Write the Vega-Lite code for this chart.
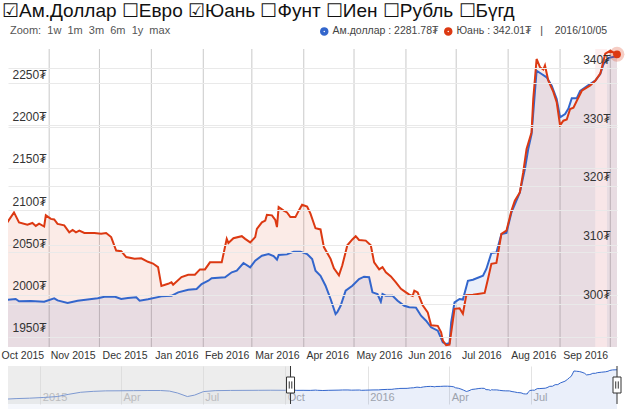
{
  "$schema": "https://vega.github.io/schema/vega-lite/v6.json",
  "background": "white",
  "padding": {"left": 1, "top": 1, "right": 10, "bottom": 0},
  "bounds": "flush",
  "spacing": 19,
  "config": {
    "font": "Liberation Sans, Arial, sans-serif",
    "view": {"stroke": null},
    "title": {"fontWeight": "normal"}
  },
  "title": {
    "text": "☑Ам.Доллар ☐Евро ☑Юань ☐Фунт ☐Иен ☐Рубль ☐Бүгд",
    "anchor": "start",
    "frame": "group",
    "fontSize": 19,
    "color": "#111111",
    "dx": -6,
    "offset": 4
  },
  "datasets": {
    "usd": [
      {"date": "2015-10-07", "value": 1993.8},
      {"date": "2015-10-12", "value": 1994.7},
      {"date": "2015-10-14", "value": 1992.0},
      {"date": "2015-10-21", "value": 1992.3},
      {"date": "2015-10-29", "value": 1991.5},
      {"date": "2015-11-04", "value": 1995.5},
      {"date": "2015-11-06", "value": 1993.0},
      {"date": "2015-11-12", "value": 1990.0},
      {"date": "2015-11-18", "value": 1992.7},
      {"date": "2015-11-30", "value": 1995.5},
      {"date": "2015-12-04", "value": 1997.4},
      {"date": "2015-12-10", "value": 1997.6},
      {"date": "2015-12-14", "value": 1994.7},
      {"date": "2015-12-18", "value": 1996.0},
      {"date": "2015-12-23", "value": 1996.7},
      {"date": "2015-12-25", "value": 1992.7},
      {"date": "2015-12-30", "value": 1994.5},
      {"date": "2016-01-07", "value": 1997.8},
      {"date": "2016-01-13", "value": 1998.5},
      {"date": "2016-01-17", "value": 2002.6},
      {"date": "2016-01-23", "value": 2005.7},
      {"date": "2016-01-28", "value": 2006.5},
      {"date": "2016-01-31", "value": 2012.4},
      {"date": "2016-02-04", "value": 2016.3},
      {"date": "2016-02-06", "value": 2019.2},
      {"date": "2016-02-14", "value": 2020.4},
      {"date": "2016-02-18", "value": 2026.3},
      {"date": "2016-02-21", "value": 2028.2},
      {"date": "2016-02-25", "value": 2037.3},
      {"date": "2016-02-29", "value": 2032.2},
      {"date": "2016-03-03", "value": 2040.0},
      {"date": "2016-03-07", "value": 2045.9},
      {"date": "2016-03-11", "value": 2047.9},
      {"date": "2016-03-14", "value": 2045.5},
      {"date": "2016-03-16", "value": 2041.2},
      {"date": "2016-03-17", "value": 2046.7},
      {"date": "2016-03-22", "value": 2047.5},
      {"date": "2016-03-26", "value": 2050.7},
      {"date": "2016-03-30", "value": 2050.7},
      {"date": "2016-04-03", "value": 2047.9},
      {"date": "2016-04-06", "value": 2042.0},
      {"date": "2016-04-08", "value": 2028.2},
      {"date": "2016-04-11", "value": 2022.2},
      {"date": "2016-04-14", "value": 2010.4},
      {"date": "2016-04-17", "value": 1994.7},
      {"date": "2016-04-20", "value": 1976.9},
      {"date": "2016-04-21", "value": 1979.0},
      {"date": "2016-04-23", "value": 1986.7},
      {"date": "2016-04-26", "value": 2004.5},
      {"date": "2016-04-30", "value": 2010.4},
      {"date": "2016-05-04", "value": 2018.3},
      {"date": "2016-05-07", "value": 2021.1},
      {"date": "2016-05-10", "value": 2020.5},
      {"date": "2016-05-12", "value": 2002.6},
      {"date": "2016-05-15", "value": 2000.5},
      {"date": "2016-05-17", "value": 1991.5},
      {"date": "2016-05-18", "value": 2000.6},
      {"date": "2016-05-20", "value": 1998.6},
      {"date": "2016-05-24", "value": 1998.5},
      {"date": "2016-05-27", "value": 1992.7},
      {"date": "2016-05-31", "value": 1986.7},
      {"date": "2016-06-03", "value": 1984.9},
      {"date": "2016-06-07", "value": 1984.5},
      {"date": "2016-06-10", "value": 1974.9},
      {"date": "2016-06-13", "value": 1969.0},
      {"date": "2016-06-16", "value": 1961.2},
      {"date": "2016-06-20", "value": 1957.2},
      {"date": "2016-06-23", "value": 1943.4},
      {"date": "2016-06-25", "value": 1941.4},
      {"date": "2016-06-27", "value": 1942.5},
      {"date": "2016-06-28", "value": 1967.1},
      {"date": "2016-06-30", "value": 1990.8},
      {"date": "2016-07-03", "value": 1994.7},
      {"date": "2016-07-05", "value": 1994.0},
      {"date": "2016-07-08", "value": 2016.3},
      {"date": "2016-07-11", "value": 2017.5},
      {"date": "2016-07-17", "value": 2022.2},
      {"date": "2016-07-19", "value": 2030.2},
      {"date": "2016-07-22", "value": 2049.1},
      {"date": "2016-07-25", "value": 2049.8},
      {"date": "2016-07-28", "value": 2071.6},
      {"date": "2016-07-31", "value": 2073.0},
      {"date": "2016-08-03", "value": 2097.3},
      {"date": "2016-08-08", "value": 2120.9},
      {"date": "2016-08-11", "value": 2148.5},
      {"date": "2016-08-13", "value": 2172.2},
      {"date": "2016-08-15", "value": 2189.9},
      {"date": "2016-08-18", "value": 2264.8},
      {"date": "2016-08-21", "value": 2260.9},
      {"date": "2016-08-24", "value": 2257.0},
      {"date": "2016-08-27", "value": 2247.0},
      {"date": "2016-08-30", "value": 2231.4},
      {"date": "2016-09-01", "value": 2209.7},
      {"date": "2016-09-04", "value": 2213.6},
      {"date": "2016-09-06", "value": 2220.0},
      {"date": "2016-09-08", "value": 2232.2},
      {"date": "2016-09-11", "value": 2232.2},
      {"date": "2016-09-13", "value": 2241.0},
      {"date": "2016-09-18", "value": 2247.9},
      {"date": "2016-09-22", "value": 2253.0},
      {"date": "2016-09-25", "value": 2260.9},
      {"date": "2016-09-27", "value": 2272.7},
      {"date": "2016-09-30", "value": 2280.0},
      {"date": "2016-10-05", "value": 2281.8}
    ],
    "cny": [
      {"date": "2015-10-07", "value": 313.8},
      {"date": "2015-10-11", "value": 315.5},
      {"date": "2015-10-14", "value": 313.8},
      {"date": "2015-10-19", "value": 313.4},
      {"date": "2015-10-22", "value": 313.7},
      {"date": "2015-10-24", "value": 313.2},
      {"date": "2015-10-26", "value": 313.6},
      {"date": "2015-10-29", "value": 313.1},
      {"date": "2015-10-30", "value": 315.0},
      {"date": "2015-11-02", "value": 314.4},
      {"date": "2015-11-04", "value": 314.3},
      {"date": "2015-11-06", "value": 313.55},
      {"date": "2015-11-10", "value": 313.3},
      {"date": "2015-11-13", "value": 312.1},
      {"date": "2015-11-15", "value": 312.5},
      {"date": "2015-11-17", "value": 312.1},
      {"date": "2015-11-19", "value": 312.4},
      {"date": "2015-11-22", "value": 312.0},
      {"date": "2015-11-28", "value": 312.0},
      {"date": "2015-12-02", "value": 311.85},
      {"date": "2015-12-05", "value": 312.0},
      {"date": "2015-12-08", "value": 311.3},
      {"date": "2015-12-11", "value": 309.0},
      {"date": "2015-12-14", "value": 308.9},
      {"date": "2015-12-17", "value": 307.9},
      {"date": "2015-12-22", "value": 307.6},
      {"date": "2015-12-26", "value": 307.7},
      {"date": "2015-12-30", "value": 307.1},
      {"date": "2016-01-02", "value": 306.8},
      {"date": "2016-01-05", "value": 306.2},
      {"date": "2016-01-07", "value": 303.0},
      {"date": "2016-01-11", "value": 303.35},
      {"date": "2016-01-13", "value": 303.6},
      {"date": "2016-01-14", "value": 303.2},
      {"date": "2016-01-19", "value": 304.5},
      {"date": "2016-01-23", "value": 304.9},
      {"date": "2016-01-27", "value": 304.9},
      {"date": "2016-01-30", "value": 305.8},
      {"date": "2016-02-02", "value": 305.8},
      {"date": "2016-02-05", "value": 307.0},
      {"date": "2016-02-12", "value": 307.0},
      {"date": "2016-02-15", "value": 311.0},
      {"date": "2016-02-16", "value": 310.3},
      {"date": "2016-02-19", "value": 311.1},
      {"date": "2016-02-24", "value": 311.45},
      {"date": "2016-02-26", "value": 311.0},
      {"date": "2016-02-29", "value": 310.4},
      {"date": "2016-03-03", "value": 311.3},
      {"date": "2016-03-04", "value": 312.7},
      {"date": "2016-03-07", "value": 313.8},
      {"date": "2016-03-09", "value": 314.1},
      {"date": "2016-03-10", "value": 315.1},
      {"date": "2016-03-13", "value": 315.0},
      {"date": "2016-03-15", "value": 314.2},
      {"date": "2016-03-16", "value": 313.0},
      {"date": "2016-03-17", "value": 316.4},
      {"date": "2016-03-20", "value": 315.8},
      {"date": "2016-03-22", "value": 315.5},
      {"date": "2016-03-24", "value": 314.7},
      {"date": "2016-03-27", "value": 314.7},
      {"date": "2016-03-29", "value": 315.8},
      {"date": "2016-03-31", "value": 316.8},
      {"date": "2016-04-03", "value": 316.5},
      {"date": "2016-04-05", "value": 315.3},
      {"date": "2016-04-08", "value": 312.8},
      {"date": "2016-04-11", "value": 312.6},
      {"date": "2016-04-13", "value": 309.6},
      {"date": "2016-04-17", "value": 307.6},
      {"date": "2016-04-19", "value": 306.0},
      {"date": "2016-04-22", "value": 304.8},
      {"date": "2016-04-24", "value": 306.5},
      {"date": "2016-04-27", "value": 309.9},
      {"date": "2016-04-30", "value": 310.9},
      {"date": "2016-05-02", "value": 311.45},
      {"date": "2016-05-04", "value": 310.8},
      {"date": "2016-05-08", "value": 310.7},
      {"date": "2016-05-11", "value": 309.9},
      {"date": "2016-05-13", "value": 307.0},
      {"date": "2016-05-16", "value": 305.8},
      {"date": "2016-05-18", "value": 306.2},
      {"date": "2016-05-20", "value": 305.3},
      {"date": "2016-05-23", "value": 304.6},
      {"date": "2016-05-26", "value": 303.6},
      {"date": "2016-05-29", "value": 302.5},
      {"date": "2016-06-01", "value": 301.9},
      {"date": "2016-06-03", "value": 301.5},
      {"date": "2016-06-05", "value": 301.3},
      {"date": "2016-06-06", "value": 302.2},
      {"date": "2016-06-08", "value": 301.9},
      {"date": "2016-06-11", "value": 299.7},
      {"date": "2016-06-14", "value": 298.5},
      {"date": "2016-06-16", "value": 296.3},
      {"date": "2016-06-20", "value": 296.2},
      {"date": "2016-06-22", "value": 295.1},
      {"date": "2016-06-23", "value": 293.7},
      {"date": "2016-06-25", "value": 292.9},
      {"date": "2016-06-27", "value": 293.0},
      {"date": "2016-06-30", "value": 299.1},
      {"date": "2016-07-03", "value": 299.2},
      {"date": "2016-07-05", "value": 298.25},
      {"date": "2016-07-07", "value": 301.4},
      {"date": "2016-07-11", "value": 301.5},
      {"date": "2016-07-18", "value": 301.8},
      {"date": "2016-07-20", "value": 304.2},
      {"date": "2016-07-22", "value": 306.75},
      {"date": "2016-07-25", "value": 306.9},
      {"date": "2016-07-28", "value": 311.85},
      {"date": "2016-07-31", "value": 312.4},
      {"date": "2016-08-03", "value": 315.8},
      {"date": "2016-08-05", "value": 317.5},
      {"date": "2016-08-08", "value": 318.9},
      {"date": "2016-08-10", "value": 322.3},
      {"date": "2016-08-12", "value": 326.3},
      {"date": "2016-08-15", "value": 329.15},
      {"date": "2016-08-16", "value": 334.8},
      {"date": "2016-08-18", "value": 341.6},
      {"date": "2016-08-20", "value": 340.2},
      {"date": "2016-08-22", "value": 339.8},
      {"date": "2016-08-23", "value": 340.5},
      {"date": "2016-08-25", "value": 337.9},
      {"date": "2016-08-28", "value": 336.0},
      {"date": "2016-08-30", "value": 334.25},
      {"date": "2016-09-01", "value": 330.3},
      {"date": "2016-09-03", "value": 331.1},
      {"date": "2016-09-05", "value": 331.3},
      {"date": "2016-09-07", "value": 333.1},
      {"date": "2016-09-09", "value": 333.3},
      {"date": "2016-09-11", "value": 334.5},
      {"date": "2016-09-14", "value": 336.2},
      {"date": "2016-09-19", "value": 337.1},
      {"date": "2016-09-22", "value": 337.9},
      {"date": "2016-09-25", "value": 339.1},
      {"date": "2016-09-26", "value": 340.2},
      {"date": "2016-09-28", "value": 342.5},
      {"date": "2016-10-01", "value": 343.0},
      {"date": "2016-10-05", "value": 342.4}
    ],
    "cny_last": [{"date": "2016-10-05", "value": 342.4}],
    "months": [
      {"date": "2015-11-01"}, {"date": "2015-12-01"}, {"date": "2016-01-01"},
      {"date": "2016-02-01"}, {"date": "2016-03-01"}, {"date": "2016-04-01"},
      {"date": "2016-05-01"}, {"date": "2016-06-01"}, {"date": "2016-07-01"},
      {"date": "2016-08-01"}, {"date": "2016-09-01"}, {"date": "2016-10-01"}
    ],
    "hover": [{"date": "2016-09-22", "date2": "2016-09-29"}],
    "usd_early": [
      {"date": "2014-11-26", "value": 1870},
      {"date": "2014-12-05", "value": 1876},
      {"date": "2014-12-20", "value": 1882},
      {"date": "2015-01-05", "value": 1892},
      {"date": "2015-01-20", "value": 1905},
      {"date": "2015-02-01", "value": 1935},
      {"date": "2015-02-15", "value": 1965},
      {"date": "2015-03-01", "value": 1978},
      {"date": "2015-03-15", "value": 1985},
      {"date": "2015-04-01", "value": 1986},
      {"date": "2015-04-15", "value": 1988},
      {"date": "2015-05-01", "value": 1990},
      {"date": "2015-05-15", "value": 1990},
      {"date": "2015-05-25", "value": 1982},
      {"date": "2015-06-03", "value": 1955},
      {"date": "2015-06-14", "value": 1905},
      {"date": "2015-06-22", "value": 1925},
      {"date": "2015-07-02", "value": 1975},
      {"date": "2015-07-15", "value": 1988},
      {"date": "2015-08-01", "value": 1991},
      {"date": "2015-08-15", "value": 1992},
      {"date": "2015-09-01", "value": 1993},
      {"date": "2015-09-15", "value": 1994},
      {"date": "2015-10-01", "value": 1993},
      {"date": "2015-10-07", "value": 1993.8}
    ],
    "mask": [{"date": "2014-11-26", "date2": "2015-10-07"}],
    "handles": [{"date": "2015-10-07"}, {"date": "2016-10-05"}]
  },
  "vconcat": [
    {
      "width": 609,
      "height": 298,
      "title": {
        "text": "Zoom:\u00a0 1w\u00a0 1m\u00a0 3m\u00a0 6m\u00a0 1y\u00a0 max",
        "anchor": "start",
        "frame": "group",
        "fontSize": 11,
        "color": "#555555",
        "dx": 2,
        "offset": 11
      },
      "encoding": {
        "x": {
          "field": "date",
          "type": "temporal",
          "scale": {
            "type": "utc",
            "domain": [
              {"year": 2015, "month": 10, "date": 7, "hours": 10, "utc": true},
              {"year": 2016, "month": 10, "date": 5, "utc": true}
            ]
          },
          "axis": {
            "title": null,
            "values": [
              {"year": 2015, "month": 10, "date": 16, "utc": true},
              {"year": 2015, "month": 11, "date": 15, "utc": true},
              {"year": 2015, "month": 12, "date": 16, "utc": true},
              {"year": 2016, "month": 1, "date": 16, "utc": true},
              {"year": 2016, "month": 2, "date": 15, "utc": true},
              {"year": 2016, "month": 3, "date": 16, "utc": true},
              {"year": 2016, "month": 4, "date": 15, "utc": true},
              {"year": 2016, "month": 5, "date": 16, "utc": true},
              {"year": 2016, "month": 6, "date": 15, "utc": true},
              {"year": 2016, "month": 7, "date": 16, "utc": true},
              {"year": 2016, "month": 8, "date": 16, "utc": true},
              {"year": 2016, "month": 9, "date": 16, "utc": true}
            ],
            "labelExpr": "utcFormat(datum.value, '%b %Y')",
            "ticks": false,
            "domain": false,
            "grid": false,
            "labelPadding": 3,
            "labelFontSize": 10.5,
            "labelColor": "#333333",
            "labelFlush": false,
            "labelOverlap": false
          }
        }
      },
      "layer": [
        {
          "data": {"name": "months"},
          "mark": {"type": "rule", "color": "#c9c9c9", "strokeWidth": 1}
        },
        {
          "data": {"name": "usd"},
          "mark": {"type": "area", "color": "#3366cc", "opacity": 0.1, "clip": true},
          "encoding": {
            "y": {
              "field": "value", "type": "quantitative",
              "scale": {"domain": [1937.9, 2290.5], "nice": false, "zero": false},
              "axis": {
                "orient": "left", "title": null,
                "values": [1950, 2000, 2050, 2100, 2150, 2200, 2250],
                "labelExpr": "datum.value + '₮'",
                "labelAlign": "left", "labelBaseline": "bottom",
                "labelPadding": -4, "labelOffset": -2,
                "ticks": false, "tickSize": 0, "domain": false,
                "grid": true, "gridColor": "#e9e9e9",
                "labelFontSize": 12, "labelColor": "#333333",
                "zindex": 1
              }
            }
          }
        },
        {
          "data": {"name": "cny"},
          "mark": {"type": "area", "color": "#dc3912", "opacity": 0.1, "clip": true},
          "encoding": {
            "y": {
              "field": "value", "type": "quantitative",
              "scale": {"domain": [292.6, 343.3], "nice": false, "zero": false},
              "axis": {
                "orient": "right", "title": null,
                "values": [300, 310, 320, 330, 340],
                "labelExpr": "datum.value + '₮'",
                "labelAlign": "right", "labelBaseline": "bottom",
                "labelPadding": -7, "labelOffset": -2,
                "ticks": false, "tickSize": 0, "domain": false,
                "grid": true, "gridColor": "#e9e9e9",
                "labelFontSize": 12, "labelColor": "#333333",
                "zindex": 1
              }
            }
          }
        },
        {
          "data": {"name": "hover"},
          "mark": {"type": "rect", "color": "#fde9e9", "opacity": 0.75},
          "encoding": {"x2": {"field": "date2"}}
        },
        {
          "data": {"name": "usd"},
          "mark": {"type": "line", "strokeWidth": 2, "clip": true},
          "encoding": {
            "y": {
              "field": "value", "type": "quantitative",
              "scale": {"domain": [1937.9, 2290.5], "nice": false, "zero": false},
              "axis": null
            },
            "color": {
              "datum": "Ам.доллар",
              "type": "nominal",
              "scale": {"domain": ["Ам.доллар", "Юань"], "range": ["#3366cc", "#dc3912"]},
              "legend": {
                "orient": "none",
                "legendX": 311,
                "legendY": -23,
                "direction": "horizontal",
                "title": null,
                "symbolType": "circle",
                "symbolSize": 25,
                "symbolStrokeWidth": 3.5,
                "labelFontSize": 10.5,
                "labelColor": "#444444",
                "columnPadding": -1,
                "labelOffset": 3,
                "labelExpr": "datum.label == 'Юань' ? 'Юань : 342.01₮\u00a0\u00a0\u00a0|\u00a0\u00a0\u00a0 2016/10/05' : 'Ам.доллар : 2281.78₮'",
                "labelLimit": 300
              }
            }
          }
        },
        {
          "data": {"name": "cny"},
          "mark": {"type": "line", "strokeWidth": 2, "clip": true},
          "encoding": {
            "y": {
              "field": "value", "type": "quantitative",
              "scale": {"domain": [292.6, 343.3], "nice": false, "zero": false},
              "axis": null
            },
            "color": {"datum": "Юань", "type": "nominal"}
          }
        },
        {
          "data": {"name": "cny_last"},
          "mark": {"type": "point", "filled": true, "color": "#dc3912", "size": 220, "opacity": 0.25},
          "encoding": {
            "y": {
              "field": "value", "type": "quantitative",
              "scale": {"domain": [292.6, 343.3], "nice": false, "zero": false},
              "axis": null
            }
          }
        },
        {
          "data": {"name": "cny_last"},
          "mark": {"type": "point", "filled": true, "color": "#dc3912", "size": 60, "opacity": 1},
          "encoding": {
            "y": {
              "field": "value", "type": "quantitative",
              "scale": {"domain": [292.6, 343.3], "nice": false, "zero": false},
              "axis": null
            }
          }
        }
      ],
      "resolve": {"scale": {"y": "independent"}, "axis": {"y": "independent"}}
    },
    {
      "width": 609,
      "height": 38,
      "encoding": {
        "x": {
          "field": "date",
          "type": "temporal",
          "scale": {
            "type": "utc",
            "domain": [
              {"year": 2014, "month": 11, "date": 26, "utc": true},
              {"year": 2016, "month": 10, "date": 5, "utc": true}
            ]
          },
          "axis": {
            "title": null,
            "values": [
              {"year": 2015, "month": 1, "date": 1, "utc": true},
              {"year": 2015, "month": 4, "date": 1, "utc": true},
              {"year": 2015, "month": 7, "date": 1, "utc": true},
              {"year": 2015, "month": 10, "date": 1, "utc": true},
              {"year": 2016, "month": 1, "date": 1, "utc": true},
              {"year": 2016, "month": 4, "date": 1, "utc": true},
              {"year": 2016, "month": 7, "date": 1, "utc": true}
            ],
            "labelExpr": "utcmonth(datum.value) == 0 ? utcFormat(datum.value, '%Y') : utcFormat(datum.value, '%b')",
            "ticks": false, "tickSize": 0,
            "domain": false,
            "grid": true, "gridColor": "#e3e3e3",
            "labelAlign": "left",
            "labelOffset": 2,
            "labelPadding": -13,
            "labelFontSize": 11,
            "labelColor": "#aaaaaa",
            "labelFlush": false,
            "labelOverlap": false
          }
        }
      },
      "layer": [
        {
          "data": {"name": "usd_early"},
          "mark": {"type": "area", "color": "#3366cc", "opacity": 0.05},
          "encoding": {
            "y": {"field": "value", "type": "quantitative", "scale": {"domain": [1800, 2335], "nice": false, "zero": false}, "axis": null}
          }
        },
        {
          "data": {"name": "usd_early"},
          "mark": {"type": "line", "color": "#3366cc", "strokeWidth": 1},
          "encoding": {
            "y": {"field": "value", "type": "quantitative", "scale": {"domain": [1800, 2335], "nice": false, "zero": false}, "axis": null}
          }
        },
        {
          "data": {"name": "usd"},
          "mark": {"type": "area", "color": "#3366cc", "opacity": 0.1},
          "encoding": {
            "y": {"field": "value", "type": "quantitative", "scale": {"domain": [1800, 2335], "nice": false, "zero": false}, "axis": null}
          }
        },
        {
          "data": {"name": "usd"},
          "mark": {"type": "line", "color": "#3366cc", "strokeWidth": 1},
          "encoding": {
            "y": {"field": "value", "type": "quantitative", "scale": {"domain": [1800, 2335], "nice": false, "zero": false}, "axis": null}
          }
        },
        {
          "data": {"name": "mask"},
          "mark": {"type": "rect", "color": "#d8d8d8", "opacity": 0.45},
          "encoding": {"x2": {"field": "date2"}}
        },
        {
          "data": {"name": "handles"},
          "mark": {"type": "rule", "color": "#333333", "strokeWidth": 1}
        },
        {
          "data": {"name": "handles"},
          "mark": {
            "type": "point",
            "shape": "M-0.5,-1H0.5V1H-0.5Z M-0.16,-0.45V0.45 M0.16,-0.45V0.45",
            "size": 256,
            "filled": false,
            "fill": "#ffffff",
            "fillOpacity": 1,
            "stroke": "#333333",
            "strokeWidth": 1,
            "opacity": 1
          }
        }
      ]
    }
  ]
}
